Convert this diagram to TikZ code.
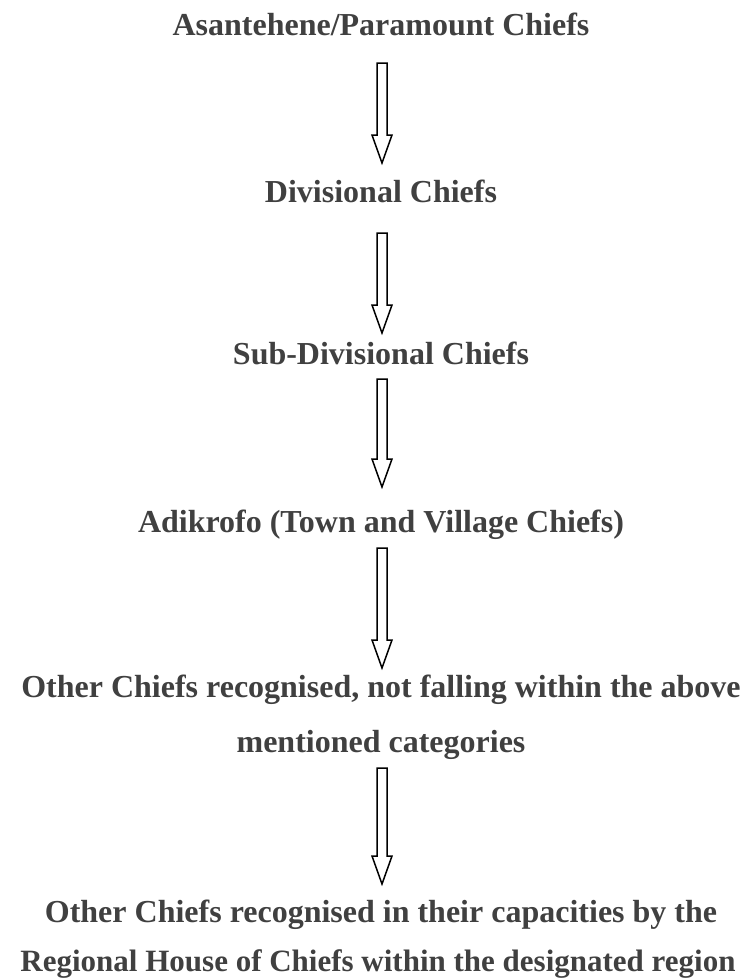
\documentclass[tikz,border=0pt]{standalone}
\usepackage{fontspec}
\setmainfont{Liberation Serif}
\usetikzlibrary{calc}
\definecolor{inkgrey}{HTML}{404040}
\tikzset{
  level/.style={font=\fontsize{32}{38}\selectfont\bfseries, text=inkgrey, anchor=base, inner sep=0pt},
  hollow/.style={draw=black, line width=1.5pt, line join=miter,
    to path={let \p1=(\tikztostart), \p2=(\tikztotarget) in
      (\x1-5pt,\y1) -- (\x1+5pt,\y1) -- (\x1+5pt,\y2+28pt) -- (\x1+10pt,\y2+28pt)
      -- (\x2,\y2) -- (\x1-10pt,\y2+28pt) -- (\x1-5pt,\y2+28pt) -- cycle}}
}
\begin{document}
\begin{tikzpicture}[x=1pt,y=-1pt]
    \useasboundingbox (0,0) rectangle (753,978);
    %levels
    \node[level] (para) at (381,35) {Asantehene/Paramount Chiefs};
    \node[level] (div) at (381,202) {Divisional Chiefs};
    \node[level] (subdiv) at (381,364) {Sub-Divisional Chiefs};
    \node[level] (adik) at (381,532) {Adikrofo (Town and Village Chiefs)};
    \node[level] (other) at (381,697) {Other Chiefs recognised, not falling within the above};
    \node[level] (otherb) at (381,752) {mentioned categories};
    \node[level] (regional) at (381,922) {Other Chiefs recognised in their capacities by the};
    \node[level, font=\fontsize{31}{38}\selectfont\bfseries] (regionalb) at (378,971) {Regional House of Chiefs within the designated region};
    %arrow ends
    \coordinate (a1) at (382,63);  \coordinate (b1) at (382,163);
    \coordinate (a2) at (382,233); \coordinate (b2) at (382,333);
    \coordinate (a3) at (382,379); \coordinate (b3) at (382,487);
    \coordinate (a4) at (382,548); \coordinate (b4) at (382,668);
    \coordinate (a5) at (382,768); \coordinate (b5) at (382,884);
    %arrows
    \foreach \i in {1,...,5}
        \draw[hollow] (a\i) to (b\i);
\end{tikzpicture}
\end{document}
